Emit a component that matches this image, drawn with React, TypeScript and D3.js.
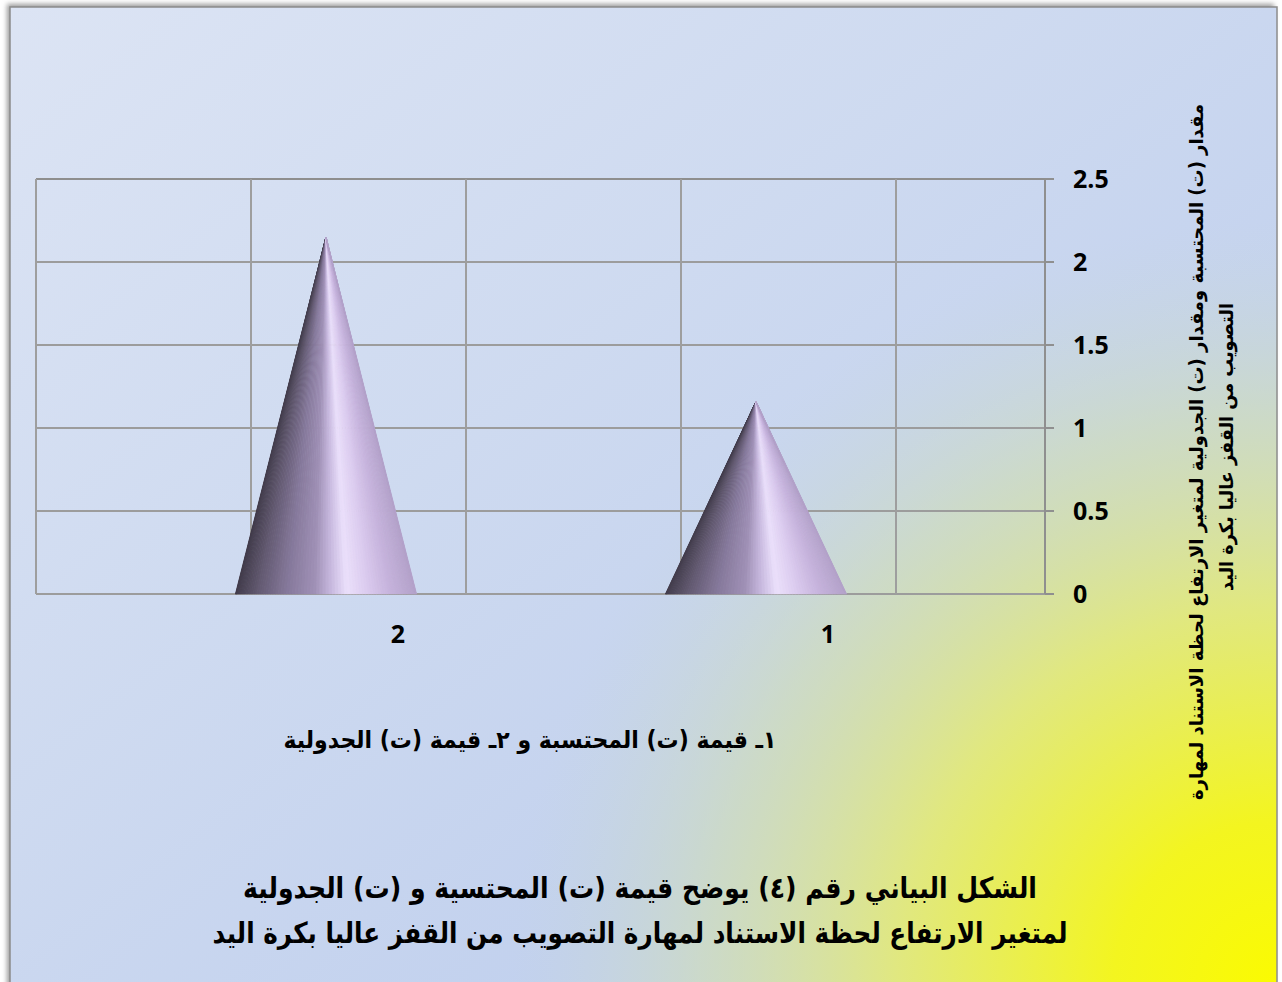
import React from 'react';
import * as d3 from 'd3';

// t-test values: 1 = calculated t, 2 = tabulated t
const categories = ['1', '2'];
const tValues = [1.16, 2.15];
const yTicks = [0, 0.5, 1, 1.5, 2, 2.5];

const titleLines = [
  'الشكل البياني رقم (٤) يوضح قيمة (ت) المحتسية و (ت) الجدولية',
  'لمتغير الارتفاع لحظة الاستناد لمهارة التصويب من القفز عاليا بكرة اليد',
];
const xAxisTitle = '١ـ قيمة (ت) المحتسبة و ٢ـ قيمة (ت) الجدولية';
const yAxisTitleLines = [
  'مقدار (ت) المحتسبة ومقدار (ت) الجدولية لمتغير الارتفاع لحظة الاستناد لمهارة',
  'التصويب من القفز عاليا بكرة اليد',
];

const W = 1282;
const H = 982;
const plot = { left: 36, right: 1045, top: 179, bottom: 594 };
const depthShift = 72; // cones stand back from the front edge of the floor

const coneStops = [
  [0, '#433d4c'],
  [0.12, '#625970'],
  [0.28, '#85789a'],
  [0.44, '#a091b6'],
  [0.53, '#c7b8de'],
  [0.62, '#ebe0fb'],
  [0.72, '#ddcdf0'],
  [0.86, '#c6b3dc'],
  [1, '#b4a2ca'],
] as const;

const coneColor = d3
  .scaleLinear<string>()
  .domain(coneStops.map((s) => s[0]))
  .range(coneStops.map((s) => s[1]))
  .interpolate(d3.interpolateRgb);

function Cone({ cx, r, apexY, baseY }: { cx: number; r: number; apexY: number; baseY: number }) {
  const n = 90;
  const slices = d3.range(n).map((i) => {
    // sample the visible half of the cone surface by angle
    const a0 = Math.PI - (i / n) * Math.PI;
    const a1 = Math.PI - ((i + 1) / n) * Math.PI;
    const x0 = cx + r * Math.cos(a0);
    const x1 = cx + r * Math.cos(a1);
    const u = ((x0 + x1) / 2 - (cx - r)) / (2 * r);
    const col = coneColor(u);
    const p = d3.path();
    p.moveTo(cx, apexY);
    p.lineTo(x0 - 0.3, baseY);
    p.lineTo(x1 + 0.3, baseY);
    p.closePath();
    return <path key={i} d={p.toString()} fill={col} stroke={col} strokeWidth={0.4} />;
  });
  return <g>{slices}</g>;
}

export default function App() {
  const y = d3.scaleLinear().domain([0, 2.5]).range([plot.bottom, plot.top]);
  // categories run right to left
  const x = d3.scaleBand<string>().domain(['2', '1']).range([183, 1043]).paddingInner(0);
  const step = x.step();
  const wallLines = d3.range(0, 5).map((k) => plot.left + (k * step) / 2);

  const arFont = "'DejaVu Sans', sans-serif";
  const numFont = "'Open Sans', 'Liberation Sans', sans-serif";

  return (
    <svg
      width={W}
      height={H}
      viewBox={`0 0 ${W} ${H}`}
      style={{ position: 'absolute', left: 0, top: 0, display: 'block' }}
    >
      <defs>
        <linearGradient id="bgBase" x1="0" y1="0" x2="1" y2="1">
          <stop offset="0" stopColor="#dce4f4" />
          <stop offset="0.4" stopColor="#cedaf0" />
          <stop offset="0.7" stopColor="#c2d1ee" />
          <stop offset="1" stopColor="#c4d2ec" />
        </linearGradient>
        <radialGradient id="bgYellow" gradientUnits="userSpaceOnUse" cx="1282" cy="990" r="770">
          <stop offset="0" stopColor="#fbfb00" stopOpacity="1" />
          <stop offset="0.22" stopColor="#f3f520" stopOpacity="1" />
          <stop offset="0.5" stopColor="#e2e97a" stopOpacity="0.95" />
          <stop offset="0.75" stopColor="#d2dfb0" stopOpacity="0.6" />
          <stop offset="1" stopColor="#c6d6dc" stopOpacity="0" />
        </radialGradient>
        <filter id="frameShadow" x="-5%" y="-5%" width="110%" height="110%">
          <feDropShadow dx="-3" dy="-3" stdDeviation="2.5" floodColor="#707070" floodOpacity="0.7" />
        </filter>
      </defs>

      <rect x={0} y={0} width={W} height={H} fill="#ffffff" />
      <rect x={10} y={7} width={1267} height={990} fill="url(#bgBase)" filter="url(#frameShadow)" />
      <rect x={10} y={7} width={1267} height={990} fill="url(#bgYellow)" />
      <rect x={10} y={7} width={1267} height={990} fill="none" stroke="#8c8c8c" strokeWidth={1.5} />

      {/* horizontal gridlines */}
      {yTicks.map((t) => (
        <line
          key={`h${t}`}
          x1={plot.left}
          x2={plot.right}
          y1={y(t)}
          y2={y(t)}
          stroke={t === 2.5 ? '#8e8e8e' : '#9c9c9c'}
          strokeWidth={2}
        />
      ))}
      {/* vertical gridlines on the back wall */}
      {wallLines.map((gx, i) => (
        <line key={`v${i}`} x1={gx} x2={gx} y1={plot.top} y2={plot.bottom} stroke="#9e9e9e" strokeWidth={2} />
      ))}

      {/* value axis on the right */}
      <line x1={plot.right} x2={plot.right} y1={plot.top} y2={plot.bottom} stroke="#8f8f8f" strokeWidth={2} />
      {yTicks.map((t) => (
        <g key={`t${t}`}>
          <line x1={plot.right} x2={plot.right + 9} y1={y(t)} y2={y(t)} stroke="#8f8f8f" strokeWidth={2} />
          <text
            x={1073}
            y={y(t)}
            dy="0.36em"
            fontFamily={numFont}
            fontWeight={700}
            fontSize={25}
            fill="#000"
          >
            {t}
          </text>
        </g>
      ))}

      {/* cones */}
      {categories.map((c, i) => {
        const cx = (x(c) as number) + x.bandwidth() / 2 - depthShift;
        return <Cone key={c} cx={cx} r={step * 0.21} apexY={y(tValues[i])} baseY={y(0)} />;
      })}

      {/* category labels */}
      {categories.map((c) => (
        <text
          key={`l${c}`}
          x={(x(c) as number) + x.bandwidth() / 2}
          y={634}
          dy="0.36em"
          textAnchor="middle"
          fontFamily={numFont}
          fontWeight={700}
          fontSize={25}
          fill="#000"
        >
          {c}
        </text>
      ))}

      {/* category axis title */}
      <text
        x={530}
        y={748}
        textAnchor="middle"
        direction="rtl"
        fontFamily={arFont}
        fontWeight={700}
        fontSize={24}
        textLength={493}
        lengthAdjust="spacingAndGlyphs"
        fill="#000"
      >
        {xAxisTitle}
      </text>

      {/* value axis title, rotated */}
      <g transform="translate(1203, 452) rotate(-90)">
        <text
          x={0}
          y={0}
          textAnchor="middle"
          direction="rtl"
          fontFamily={arFont}
          fontWeight={700}
          fontSize={19}
          textLength={696}
          lengthAdjust="spacingAndGlyphs"
          fill="#000"
        >
          {yAxisTitleLines[0]}
        </text>
        <text
          x={5}
          y={30}
          textAnchor="middle"
          direction="rtl"
          fontFamily={arFont}
          fontWeight={700}
          fontSize={19}
          textLength={288}
          lengthAdjust="spacingAndGlyphs"
          fill="#000"
        >
          {yAxisTitleLines[1]}
        </text>
      </g>

      {/* chart title */}
      <text
        x={640}
        y={898}
        textAnchor="middle"
        direction="rtl"
        fontFamily={arFont}
        fontWeight={700}
        fontSize={29}
        textLength={794}
        lengthAdjust="spacingAndGlyphs"
        fill="#000"
      >
        {titleLines[0]}
      </text>
      <text
        x={640}
        y={943}
        textAnchor="middle"
        direction="rtl"
        fontFamily={arFont}
        fontWeight={700}
        fontSize={29}
        textLength={855}
        lengthAdjust="spacingAndGlyphs"
        fill="#000"
      >
        {titleLines[1]}
      </text>
    </svg>
  );
}
